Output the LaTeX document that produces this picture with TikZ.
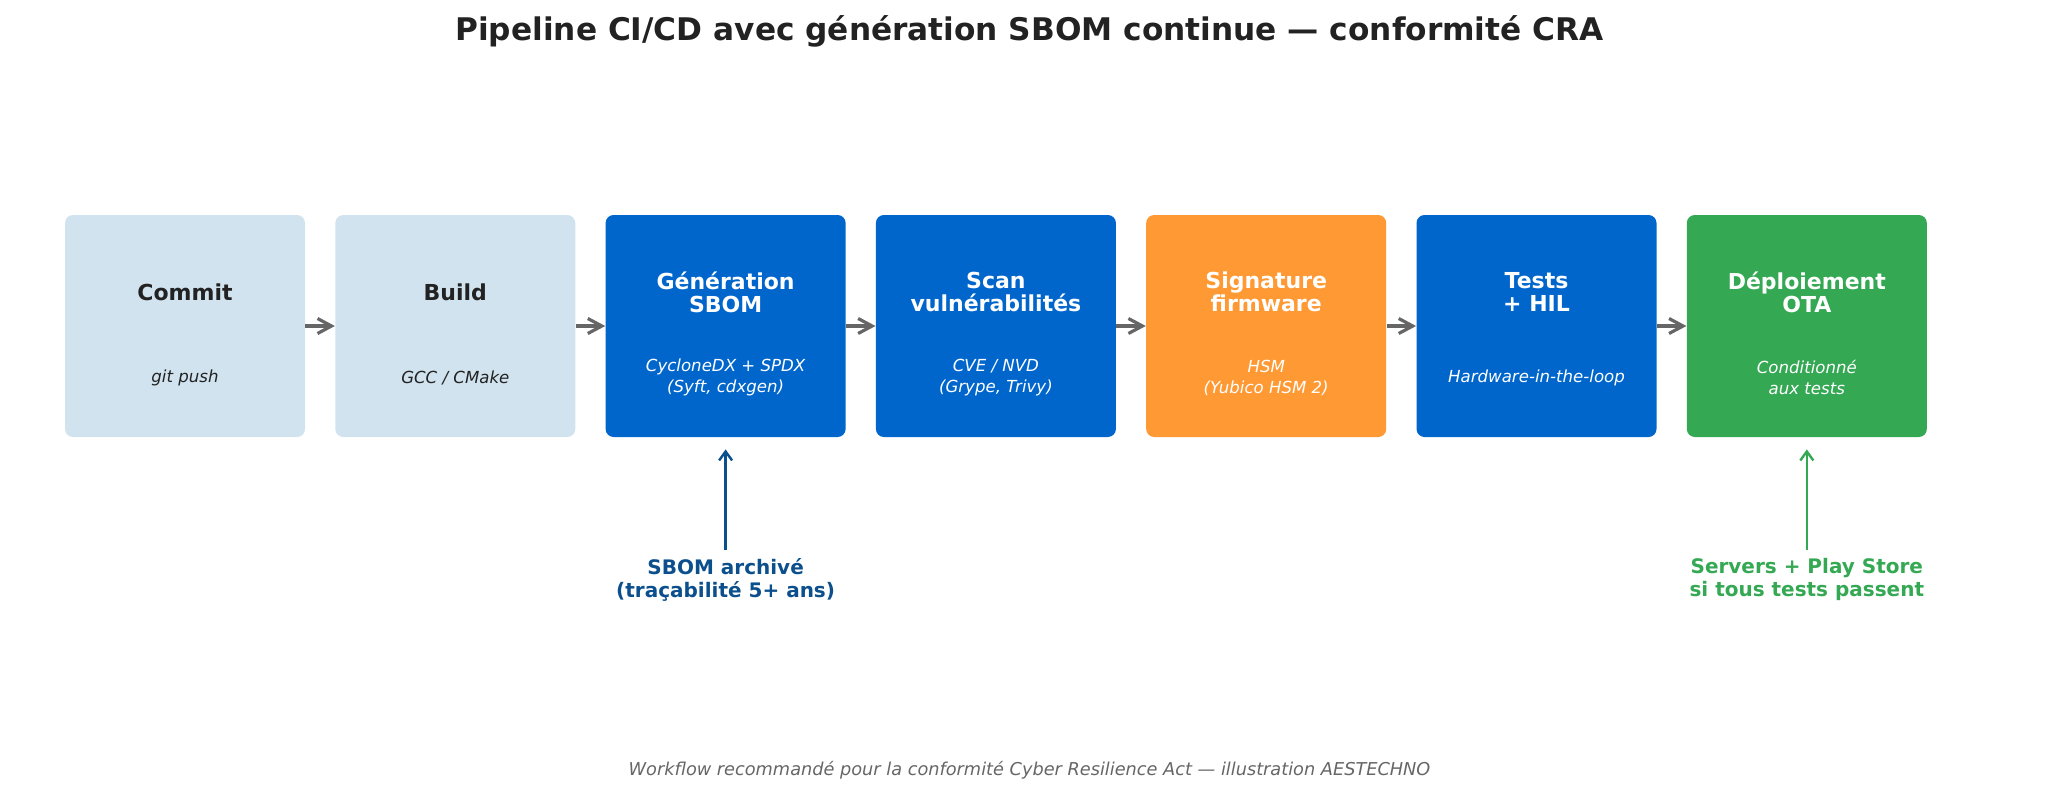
\documentclass[tikz,border=0pt]{standalone}
\usepackage{fontspec}
\setmainfont{DejaVu Sans}
\usetikzlibrary{positioning, arrows.meta}
\definecolor{paleblue}{HTML}{D0E3EF}
\definecolor{stageblue}{HTML}{0066CC}
\definecolor{stageorange}{HTML}{FF9933}
\definecolor{stagegreen}{HTML}{34A853}
\definecolor{noteblue}{HTML}{0B4F8C}
\definecolor{darktext}{HTML}{222222}
\definecolor{arrowgray}{HTML}{666666}
\tikzstyle{every node}=[inner sep=0pt]
\tikzstyle{stage}=[rectangle, rounded corners=4pt, minimum width=120pt, minimum height=111pt]
\tikzstyle{stagetitle}=[align=center, font=\bfseries\fontsize{11}{11.5}\selectfont]
\tikzstyle{subline}=[align=center, font=\itshape\fontsize{8.3}{10.5}\selectfont]
\tikzstyle{notetext}=[align=center, font=\bfseries\fontsize{10}{11.5}\selectfont]
\tikzstyle{flow}=[-{Straight Barb[length=7pt, width=7.5pt]}, line width=1.6pt, arrowgray]
\tikzstyle{notearrow}=[-{Straight Barb[length=4.5pt, width=6.5pt]}, line width=1.2pt, shorten <=4pt, shorten >=6pt]

\begin{document}
\begin{tikzpicture}
    \useasboundingbox (0,0) rectangle (1029.5pt,-396.5pt);
    \node		[font=\bfseries\fontsize{15.6}{17}\selectfont, text=darktext]		(T) at (514.75pt,-15.8pt) {Pipeline CI/CD avec génération SBOM continue — conformité CRA};
    % stages
    \node		[stage, fill=paleblue]		(A) at (92.5pt,-163pt) {};
    \node		[stage, fill=paleblue]		(B) [right=14.75pt of A] {};
    \node		[stage, fill=stageblue]		(C) [right=14.75pt of B] {};
    \node		[stage, fill=stageblue]		(D) [right=14.75pt of C] {};
    \node		[stage, fill=stageorange]	(E) [right=14.75pt of D] {};
    \node		[stage, fill=stageblue]		(F) [right=14.75pt of E] {};
    \node		[stage, fill=stagegreen]	(G) [right=14.75pt of F] {};
    \node		[stagetitle, text=darktext]	(A1) at ([yshift=17pt]A.center) {Commit};
    \node		[subline, text=darktext]	(A2) at ([yshift=-25.75pt]A.center) {git push};
    \node		[stagetitle, text=darktext]	(B1) at ([yshift=17pt]B.center) {Build};
    \node		[subline, text=darktext]	(B2) at ([yshift=-25.75pt]B.center) {GCC / CMake};
    \node		[stagetitle, text=white]	(C1) at ([yshift=17pt]C.center) {Génération\\SBOM};
    \node		[subline, text=white]		(C2) at ([yshift=-25.75pt]C.center) {CycloneDX + SPDX\\(Syft, cdxgen)};
    \node		[stagetitle, text=white]	(D1) at ([yshift=17pt]D.center) {Scan\\vulnérabilités};
    \node		[subline, text=white]		(D2) at ([yshift=-25.75pt]D.center) {CVE / NVD\\(Grype, Trivy)};
    \node		[stagetitle, text=white]	(E1) at ([yshift=17pt]E.center) {Signature\\firmware};
    \node		[subline, text=white]		(E2) at ([yshift=-25.75pt]E.center) {HSM\\(Yubico HSM 2)};
    \node		[stagetitle, text=white]	(F1) at ([yshift=17pt]F.center) {Tests\\+ HIL};
    \node		[subline, text=white]		(F2) at ([yshift=-25.75pt]F.center) {Hardware-in-the-loop};
    \node		[stagetitle, text=white]	(G1) at ([yshift=17pt]G.center) {Déploiement\\OTA};
    \node		[subline, text=white]		(G2) at ([yshift=-25.75pt]G.center) {Conditionné\\aux tests};
    \draw[flow] (A)--(B);
    \draw[flow] (B)--(C);
    \draw[flow] (C)--(D);
    \draw[flow] (D)--(E);
    \draw[flow] (E)--(F);
    \draw[flow] (F)--(G);
    % notes below
    \coordinate (L) at (0,-289.75pt);
    \node		[notetext, text=noteblue]	(N1) at (C |- L) {SBOM archivé\\(traçabilité 5+ ans)};
    \node		[notetext, text=stagegreen]	(N2) at (G |- L) {Servers + Play Store\\si tous tests passent};
    \draw[notearrow, noteblue] (N1)--(C);
    \draw[notearrow, stagegreen] (N2)--(G);
    \node		[font=\itshape\fontsize{8.86}{11}\selectfont, text=arrowgray]	(W) at (514.75pt,-385pt) {Workflow recommandé pour la conformité Cyber Resilience Act — illustration AESTECHNO};
\end{tikzpicture}
\end{document}
